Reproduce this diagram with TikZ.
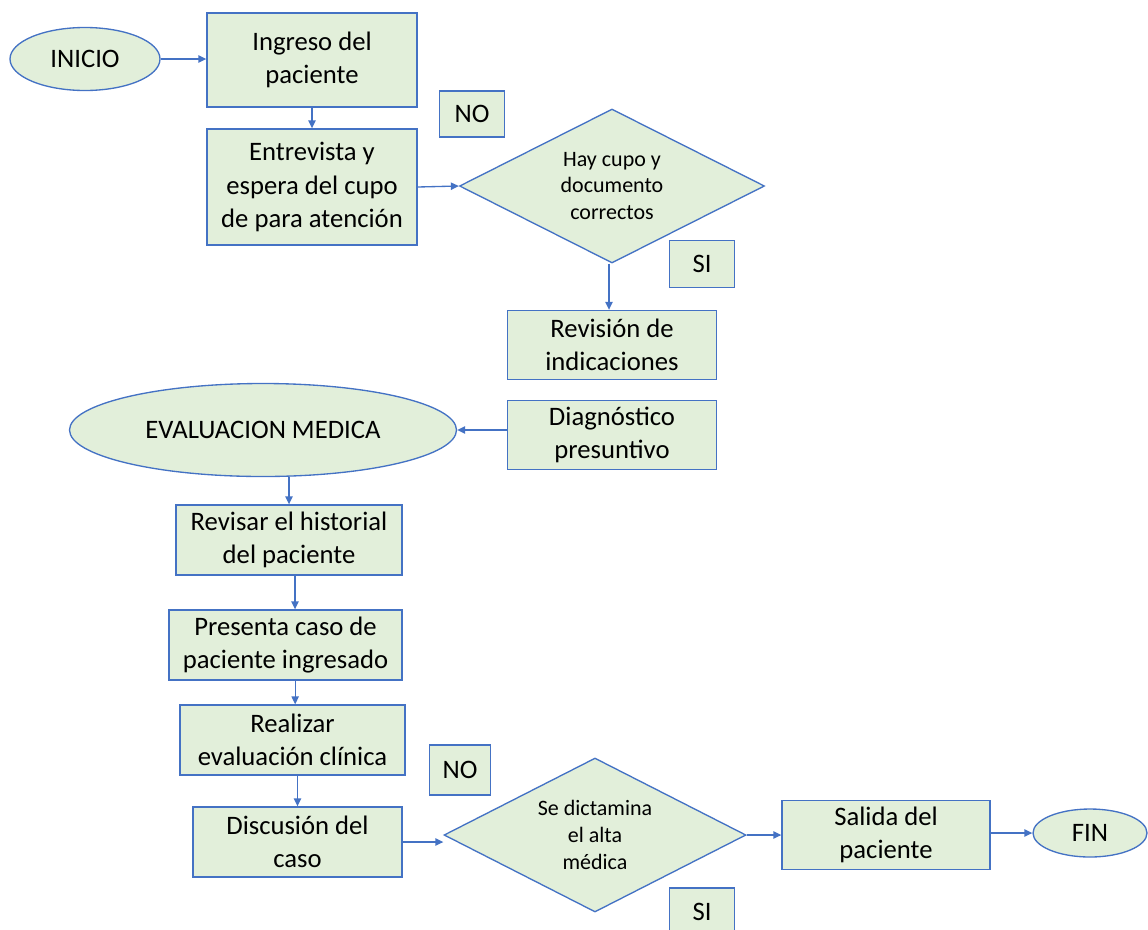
\documentclass[tikz,border=0pt]{standalone}
\usepackage{fontspec}
\setmainfont{Carlito}
\usetikzlibrary{arrows.meta, positioning, shapes.geometric, calc}
\definecolor{boxfill}{HTML}{E2EFDA}
\definecolor{boxline}{HTML}{4472C4}

\begin{document}
\begin{tikzpicture}[
  x=0.75pt, y=-0.75pt,
  box/.style={rectangle, draw=boxline, line width=1pt, fill=boxfill,
              align=center, inner sep=0pt,
              font=\fontsize{20pt}{25pt}\selectfont},
  term/.style={ellipse, draw=boxline, line width=1pt, fill=boxfill,
               inner sep=0pt, font=\fontsize{20pt}{25pt}\selectfont},
  decision/.style={diamond, draw=boxline, line width=1pt, fill=boxfill,
                   align=center, inner sep=0pt, aspect=2,
                   font=\fontsize{16.5pt}{20pt}\selectfont},
  arrow/.style={-{Triangle[length=6pt, width=5.5pt]}, draw=boxline, line width=1pt}
]
  \useasboundingbox (0,0) rectangle (1148,929);

  \node[term, minimum width=112.5pt, minimum height=47.25pt] (inicio) at (85,59) {INICIO};
  \node[box, minimum width=157.5pt, minimum height=70.5pt] (ingreso) at (312,60)
    {Ingreso del\\paciente};
  \node[box, minimum width=48.75pt, minimum height=34.5pt] (no1) at (472,114) {NO};
  \node[box, minimum width=157.5pt, minimum height=87pt] (entrevista) at (312,187)
    {Entrevista y\\espera del cupo\\de para atención};
  \node[decision, minimum width=228.75pt, minimum height=115.5pt] (cupo) at (612,186)
    {Hay cupo y\\documento\\correctos};
  \node[box, minimum width=48.75pt, minimum height=35.25pt] (si1) at (702,264) {SI};
  \node[box, minimum width=156.75pt, minimum height=51.75pt] (revision) at (612,345)
    {Revisión de\\indicaciones};
  \node[term, minimum width=290.25pt, minimum height=69.75pt] (evaluacion) at (263,430)
    {EVALUACION MEDICA};
  \node[box, minimum width=156.75pt, minimum height=51.75pt] (diagnostico) at (612,435)
    {Diagnóstico\\presuntivo};
  \node[box, minimum width=169.5pt, minimum height=52.5pt] (historial) at (289,540)
    {Revisar el historial\\del paciente};
  \node[box, minimum width=174.75pt, minimum height=52.5pt] (caso) at (285.5,645)
    {Presenta caso de\\paciente ingresado};
  \node[box, minimum width=168.75pt, minimum height=52.5pt] (clinica) at (292.5,740)
    {Realizar\\evaluación clínica};
  \node[box, minimum width=45.75pt, minimum height=37.5pt] (no2) at (460,770) {NO};
  \node[box, minimum width=156.75pt, minimum height=52.5pt] (discusion) at (297.5,842)
    {Discusión del\\caso};
  \node[decision, minimum width=226.5pt, minimum height=115.5pt] (alta) at (595,835)
    {Se dictamina\\el alta\\médica};
  \node[box, minimum width=48.75pt, minimum height=36pt] (si2) at (702,912) {SI};
  \node[box, minimum width=156pt, minimum height=51.75pt] (salida) at (886,835)
    {Salida del\\paciente};
  \node[term, minimum width=85.5pt, minimum height=36pt] (fin) at (1090,833) {FIN};

  \draw[arrow] (inicio) -- (ingreso.west |- inicio);
  \draw[arrow] (ingreso) -- (entrevista);
  \draw[arrow] (entrevista.east) -- (cupo.west);
  \draw[arrow] (cupo.south -| 609,0) -- (revision.north -| 609,0);
  \draw[arrow] (diagnostico.west |- evaluacion) -- (evaluacion.east);
  \draw[arrow] (evaluacion.south -| historial) -- (historial.north);
  \draw[arrow] ([xshift=4.5pt]historial.south) -- ([xshift=4.5pt]historial.south |- caso.north);
  \draw[arrow] ([xshift=2pt]caso.south -| clinica) -- ([xshift=2pt]clinica.north);
  \draw[arrow] (clinica.south -| discusion) -- (discusion.north);
  \draw[arrow] (discusion) -- (alta.west |- discusion);
  \draw[arrow] (alta.east) -- (salida.west);
  \draw[arrow] (salida.east |- fin) -- (fin.west);
\end{tikzpicture}
\end{document}
